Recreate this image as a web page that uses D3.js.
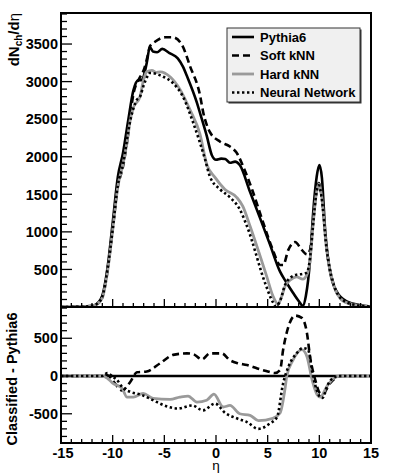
<!DOCTYPE html>
<html>
<head>
<meta charset="utf-8">
<script src="https://cdn.jsdelivr.net/npm/d3@7"></script>
<style>
  body { margin: 0; background: #fff; }
  svg { display: block; font-family: "Liberation Sans", Arial, sans-serif; }
  .tick-label { font-size: 14.5px; font-weight: bold; }
</style>
</head>
<body>
<div id="chart"><svg></svg></div>
<script>
// dN/deta: [eta, value]
var pythia6 = [[-15,0],[-13,3],[-12,15],[-11.5,45],[-11,150],[-10.5,520],[-10,1120],[-9.5,1730],[-9,2050],
  [-8.5,2480],[-8,2880],[-7.5,3020],[-7.2,3020],[-7,3070],[-6.7,3250],[-6.4,3460],[-6.1,3400],[-5.7,3390],
  [-5.2,3435],[-4.5,3380],[-3.7,3310],[-3.2,3200],[-2.8,3070],[-1.85,2720],[-1.5,2560],[-0.9,2280],[-0.4,2020],
  [0,1960],[0.5,1975],[0.9,1970],[1.35,1920],[1.85,1935],[2.3,1890],[3.3,1530],[4.3,1170],[5.2,840],[6.2,470],
  [6.8,330],[7.45,190],[8,80],[8.4,15],[8.7,150],[9.1,620],[9.4,1250],[9.75,1740],[10,1890],[10.25,1720],
  [10.55,1050],[11,500],[11.7,200],[12.7,70],[13.9,25],[15,5]];

var softKNN = [[-15,0],[-13,3],[-12,15],[-11.5,40],[-11,130],[-10.5,480],[-10,1040],[-9.5,1600],[-9,1870],
  [-8.6,2200],[-8,2830],[-7.35,3060],[-7,3150],[-6.6,3350],[-6.4,3470],[-5.9,3530],[-4.9,3590],[-4.2,3590],
  [-3.3,3490],[-2.5,3200],[-1.55,2820],[-1.25,2600],[-0.6,2330],[0.4,2200],[1.35,2135],[2.1,2030],[2.6,1880],
  [3.5,1560],[4.5,1150],[5.5,760],[6.2,560],[6.5,560],[7,760],[7.65,865],[8.3,760],[8.8,700],[9.1,760],
  [9.4,1150],[9.7,1520],[9.95,1650],[10.2,1500],[10.7,780],[11.3,340],[12.3,85],[13.6,25],[15,5]];

var hardKNN = [[-15,0],[-13,3],[-12,15],[-11.5,40],[-11,120],[-10.5,470],[-10,1020],[-9.5,1600],[-9,1900],
  [-8.6,2200],[-8.3,2490],[-8,2650],[-7.35,2800],[-7.05,3000],[-6.7,3130],[-6.2,3150],[-5.8,3120],[-5.4,3130],
  [-4.45,3065],[-3.5,2900],[-2.5,2620],[-1.55,2300],[-0.9,1900],[-0.1,1725],[0.87,1565],[2,1460],[2.6,1340],
  [3.3,1075],[4.9,410],[5.5,150],[6,40],[6.3,120],[6.7,280],[7.2,360],[7.8,400],[8.4,370],[8.8,430],[9.1,620],
  [9.4,1100],[9.7,1500],[9.95,1640],[10.2,1500],[10.7,770],[11.3,330],[12.3,80],[13.6,25],[15,5]];

var neuralNet = [[-15,0],[-13,3],[-12,15],[-11.5,45],[-11,140],[-10.5,500],[-10,1030],[-9.5,1620],[-9,1900],
  [-8.3,2480],[-7.65,2760],[-7.35,2800],[-7,2950],[-6.6,3080],[-6.4,3115],[-5.1,3065],[-4.2,2985],[-3.2,2800],
  [-2.2,2450],[-1.05,1960],[-0.6,1740],[0.4,1565],[1.35,1460],[2.3,1300],[3,1075],[4.8,300],[5.5,65],[5.8,10],
  [6.2,80],[6.7,300],[7.2,390],[7.8,430],[8.4,440],[8.8,460],[9.1,650],[9.4,1100],[9.7,1500],[9.95,1620],
  [10.2,1480],[10.7,780],[11.3,340],[12.3,90],[13.6,25],[15,5]];

// Classified - Pythia6: [eta, value]
var pythiaDiff = [[-15,0],[15,0]];

var softDiff = [[-15,0],[-11,0],[-10.5,10],[-10,-60],[-9.1,-190],[-8.3,-80],[-7.65,50],[-6.7,60],[-5.4,170],
  [-4.15,280],[-2.8,300],[-2.2,290],[-1.35,220],[-0.6,300],[0.55,300],[1.35,210],[2.1,170],[3,145],[4,100],
  [4.75,70],[5.7,40],[6.2,80],[6.5,350],[7,650],[7.65,800],[8.3,770],[8.8,570],[9.1,260],[9.6,-50],[10.1,-230],
  [10.35,-235],[11,-100],[11.7,-15],[12.2,0],[15,0]];

var hardDiff = [[-15,0],[-11,0],[-10.5,-30],[-10,-95],[-9.1,-160],[-8.6,-280],[-8,-280],[-7.05,-230],[-6.1,-295],
  [-4.45,-310],[-3.5,-280],[-2.7,-265],[-1.85,-345],[-0.9,-320],[-0.2,-240],[0.7,-410],[1.35,-390],[2.3,-500],
  [3.3,-520],[4.1,-590],[5.5,-560],[6.2,-490],[6.7,-150],[6.85,0],[7.45,210],[8.3,350],[8.8,260],[9.3,-50],
  [9.8,-250],[10.1,-280],[10.7,-145],[11.3,-40],[12,0],[15,0]];

var nnDiff = [[-15,0],[-11,0],[-10.5,40],[-10,-10],[-9.6,-50],[-9,-160],[-8.3,-210],[-7.2,-250],[-6.1,-320],
  [-4.8,-400],[-3.7,-430],[-2.3,-390],[-1.25,-455],[-0.1,-365],[0.9,-490],[2,-560],[3,-610],[4.1,-700],
  [5.2,-630],[5.9,-545],[6.5,-95],[7,120],[7.8,300],[8.4,370],[8.9,350],[9.4,-10],[10.1,-280],[10.3,-290],
  [10.8,-120],[11.3,-30],[12,0],[15,0]];

var legendNames = ["Pythia6", "Soft kNN", "Hard kNN", "Neural Network"];
var topTicks = [500, 1000, 1500, 2000, 2500, 3000, 3500];
var bottomTicks = [-500, 0, 500];
var etaTicks = [-15, -10, -5, 0, 5, 10, 15];

var styles = [
  { color: "#000", width: 2.6, dash: null },
  { color: "#000", width: 2.6, dash: "7,4" },
  { color: "#9a9a9a", width: 2.8, dash: null },
  { color: "#000", width: 2.6, dash: "2.4,2.6" }
];

var W = 399, H = 474;
var left = 61, right = 371;
var top1 = 13, bot1 = 307, top2 = 307, bot2 = 443;

var svg = d3.select("#chart svg").attr("width", W).attr("height", H);

var x = d3.scaleLinear().domain([-15, 15]).range([left, right]);
var y1 = d3.scaleLinear().domain([0, 3913]).range([bot1, top1]);
var y2 = d3.scaleLinear().domain([-887, 914]).range([bot2, top2]);

svg.append("defs").append("clipPath").attr("id", "clip1").
  append("rect").attr("x", left).attr("y", top1).attr("width", right - left).attr("height", bot1 - top1);
svg.select("defs").append("clipPath").attr("id", "clip2").
  append("rect").attr("x", left).attr("y", top2).attr("width", right - left).attr("height", bot2 - top2);

var drawPanel = function(yScale, series, clipId) {
  var line = d3.line().
    x(function(d) { return x(d[0]); }).
    y(function(d) { return yScale(d[1]); }).
    curve(d3.curveMonotoneX);
  var g = svg.append("g").attr("clip-path", "url(#" + clipId + ")");
  series.forEach(function(s, i) {
    g.append("path").
      datum(s).
      attr("fill", "none").
      attr("stroke", styles[i].color).
      attr("stroke-width", styles[i].width).
      attr("stroke-dasharray", styles[i].dash).
      attr("d", line);
  });
};

drawPanel(y1, [pythia6, softKNN, hardKNN, neuralNet], "clip1");
drawPanel(y2, [pythiaDiff, softDiff, hardDiff, nnDiff], "clip2");

// tick marks (ROOT style: inside the frame, left and bottom only)
var yTicks = function(yScale, lo, hi, labels, bot) {
  var minor = d3.range(lo, hi + 1, 100);
  var g = svg.append("g");
  minor.forEach(function(v) {
    var major = v % 500 === 0;
    var yy = yScale(v);
    if (yy > bot + 0.5) return;
    g.append("line").
      attr("x1", left).attr("x2", left + (major ? 11 : 6)).
      attr("y1", yy).attr("y2", yy).
      attr("stroke", "#000").attr("stroke-width", 1.3);
  });
  labels.forEach(function(v) {
    g.append("text").
      attr("class", "tick-label").
      attr("x", left - 3).
      attr("y", yScale(v)).
      attr("dy", "0.36em").
      attr("text-anchor", "end").
      text(v);
  });
};

yTicks(y1, 0, 3900, topTicks, bot1);
yTicks(y2, -800, 900, bottomTicks, bot2);

var xTicks = function(yb, withLabels) {
  var g = svg.append("g");
  d3.range(-15, 16, 1).forEach(function(v) {
    var major = v % 5 === 0;
    g.append("line").
      attr("x1", x(v)).attr("x2", x(v)).
      attr("y1", yb).attr("y2", yb - (major ? 8 : 4)).
      attr("stroke", "#000").attr("stroke-width", 1.3);
  });
  if (withLabels) {
    etaTicks.forEach(function(v) {
      g.append("text").
        attr("class", "tick-label").
        attr("x", x(v) + (v === -15 ? 2 : 0)).
        attr("y", yb + 14.5).
        attr("text-anchor", "middle").
        text(v);
    });
  }
};

xTicks(bot1, false);
xTicks(bot2, true);

// frames
svg.append("rect").
  attr("x", left).attr("y", top1).attr("width", right - left).attr("height", bot1 - top1).
  attr("fill", "none").attr("stroke", "#000").attr("stroke-width", 2);
svg.append("rect").
  attr("x", left).attr("y", top2).attr("width", right - left).attr("height", bot2 - top2).
  attr("fill", "none").attr("stroke", "#000").attr("stroke-width", 2);

// axis titles
var t1 = svg.append("text").
  attr("transform", "translate(19," + top1 + ") rotate(-90)").
  attr("text-anchor", "end").
  attr("font-size", 15).
  attr("font-weight", "bold");
t1.append("tspan").text("dN");
t1.append("tspan").attr("font-size", 10).attr("dy", 3).text("ch");
t1.append("tspan").attr("dy", -3).text("/d");
t1.append("tspan").attr("font-weight", "normal").text("η");

svg.append("text").
  attr("transform", "translate(17," + ((top2 + bot2) / 2 + 4) + ") rotate(-90)").
  attr("text-anchor", "middle").
  attr("font-size", 14.5).
  attr("font-weight", "bold").
  text("Classified - Pythia6");

svg.append("text").
  attr("x", x(0)).
  attr("y", 470).
  attr("text-anchor", "middle").
  attr("font-size", 13.5).
  text("η");

// legend
var lx = 227, ly = 28, lw = 133, lh = 74;
var legend = svg.append("g");
legend.append("rect").
  attr("x", lx + 1.5).attr("y", ly + 1.5).attr("width", lw).attr("height", lh).
  attr("fill", "#333");
legend.append("rect").
  attr("x", lx).attr("y", ly).attr("width", lw).attr("height", lh).
  attr("fill", "#f0f0f0").attr("stroke", "#333").attr("stroke-width", 1);

legendNames.forEach(function(name, i) {
  var yy = ly + 9 + i * 18.5;
  legend.append("line").
    attr("x1", lx + 5).attr("x2", lx + 27).
    attr("y1", yy).attr("y2", yy).
    attr("stroke", styles[i].color).
    attr("stroke-width", styles[i].width).
    attr("stroke-dasharray", styles[i].dash);
  legend.append("text").
    attr("x", lx + 33).
    attr("y", yy).
    attr("dy", "0.36em").
    attr("font-size", 13).
    attr("font-weight", "bold").
    text(name);
});
</script>
</body>
</html>
